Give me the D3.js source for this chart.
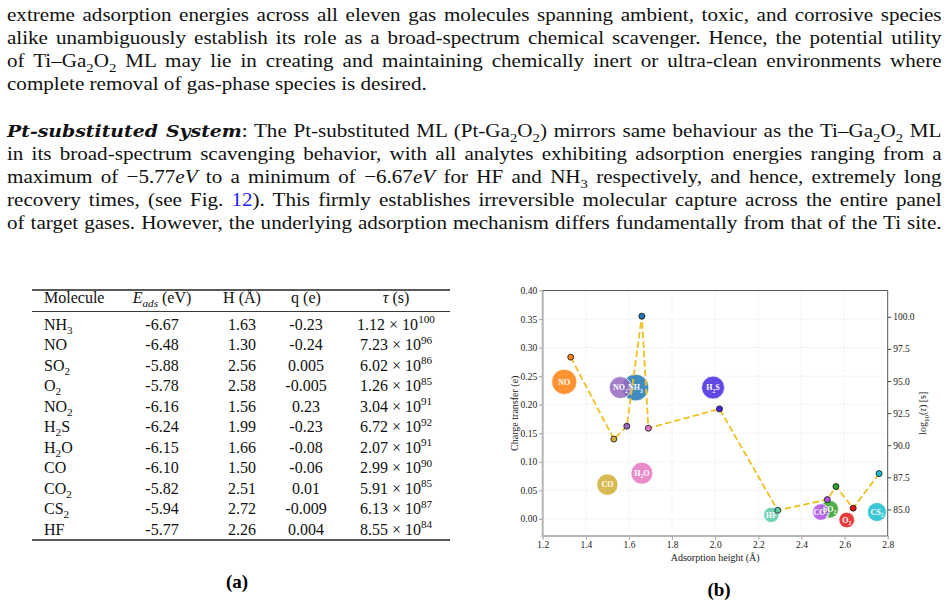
<!DOCTYPE html>
<html><head><meta charset="utf-8">
<script src="https://cdn.jsdelivr.net/npm/d3@7"></script>
<style>html,body{margin:0;padding:0;background:#fff;} svg{display:block;}</style>
</head><body>
<svg id="c" width="949" height="608"></svg>
<script>
// ---------- data (table) ----------
const molecules = ["NH3","NO","SO2","O2","NO2","H2S","H2O","CO","CO2","CS2","HF"];
const eAds      = ["-6.67","-6.48","-5.88","-5.78","-6.16","-6.24","-6.15","-6.10","-5.82","-5.94","-5.77"];
const heightH   = ["1.63","1.30","2.56","2.58","1.56","1.99","1.66","1.50","2.51","2.72","2.26"];
const chargeQ   = ["-0.23","-0.24","0.005","-0.005","0.23","-0.23","-0.08","-0.06","0.01","-0.009","0.004"];
const tauMant   = ["1.12","7.23","6.02","1.26","3.04","6.72","2.07","2.99","5.91","6.13","8.55"];
const tauExp    = ["100","96","86","85","91","92","91","90","85","87","84"];

// ---------- data (chart, as plotted) ----------
const bubbleH   = [1.63, 1.30, 2.53, 2.61, 1.56, 1.99, 1.66, 1.50, 2.49, 2.75, 2.26];
const bubbleQ   = [0.23, 0.24, 0.017, -0.002, 0.23, 0.23, 0.08, 0.06, 0.012, 0.012, 0.007];
const markerH   = [1.66, 1.33, 2.56, 2.64, 1.59, 2.02, 1.69, 1.53, 2.52, 2.76, 2.29];
const logTau    = [100.05, 96.86, 86.78, 85.10, 91.48, 92.83, 91.32, 90.48, 85.77, 87.79, 84.93];
const absEads   = [6.67, 6.48, 5.88, 5.78, 6.16, 6.24, 6.15, 6.10, 5.82, 5.94, 5.77];
const bubbleColors = ["#1f77b4","#ff7f0e","#2ca02c","#e31a1c","#9467bd","#4527e0","#e377c2","#d1ae35","#b050e8","#17becf","#5ccaa8"];
const xTicks    = [1.2, 1.4, 1.6, 1.8, 2.0, 2.2, 2.4, 2.6, 2.8];
const yTicks    = [0.00, 0.05, 0.10, 0.15, 0.20, 0.25, 0.30, 0.35, 0.40];
const rTicks    = [85.0, 87.5, 90.0, 92.5, 95.0, 97.5, 100.0];

const svg = d3.select("#c");
const SERIF = "'Liberation Serif','Times New Roman',serif";
svg.append("rect").attr("width",949).attr("height",608).attr("fill","#fff");

function rich(sel, segs, size) {
  let shift = 0;
  segs.forEach(s => {
    const ts = sel.append("tspan").text(s.t);
    const target = s.sub ? size*0.28 : s.sup ? -size*0.4 : 0;
    if (target !== shift) { ts.attr("dy", target - shift); shift = target; }
    if (s.sub || s.sup) ts.attr("font-size", size*0.7);
    if (s.it) ts.attr("font-style","italic");
    if (s.b) ts.attr("font-weight","bold");
    if (s.ff) ts.attr("font-family", s.ff);
    if (s.fs) ts.attr("font-size", s.fs);
    if (s.fill) ts.attr("fill", s.fill);
  });
}
function chem(name, extra) {
  return name.match(/\d+|\D+/g).map(p => Object.assign(/\d/.test(p) ? {t:p, sub:true} : {t:p}, extra||{}));
}

// ---------- paragraphs ----------
const P = 19, TEXTW = 935, WIDEN = 1.11;
const para1 = [
  [{t:"extreme adsorption energies across all eleven gas molecules spanning ambient, toxic, and corrosive species"}],
  [{t:"alike unambiguously establish its role as a broad-spectrum chemical scavenger. Hence, the potential utility"}],
  [{t:"of Ti–Ga"},{t:"2",sub:true},{t:"O"},{t:"2",sub:true},{t:" ML may lie in creating and maintaining chemically inert or ultra-clean environments where"}],
  [{t:"complete removal of gas-phase species is desired."}]
];
const para2 = [
  [{t:"Pt-substituted System",b:true,it:true,ff:"'DejaVu Serif',serif",fs:17},{t:": The Pt-substituted ML (Pt-Ga"},{t:"2",sub:true},{t:"O"},{t:"2",sub:true},{t:") mirrors same behaviour as the Ti–Ga"},{t:"2",sub:true},{t:"O"},{t:"2",sub:true},{t:" ML"}],
  [{t:"in its broad-spectrum scavenging behavior, with all analytes exhibiting adsorption energies ranging from a"}],
  [{t:"maximum of −5.77"},{t:"eV",it:true},{t:" to a minimum of −6.67"},{t:"eV",it:true},{t:" for HF and NH"},{t:"3",sub:true},{t:" respectively, and hence, extremely long"}],
  [{t:"recovery times, (see Fig. "},{t:"12",fill:"#1f1fff"},{t:"). This firmly establishes irreversible molecular capture across the entire panel"}],
  [{t:"of target gases. However, the underlying adsorption mechanism differs fundamentally from that of the Ti site."}]
];
function drawPara(lines, y0, justifyLast) {
  lines.forEach((segs, i) => {
    const g = svg.append("g");
    const t = g.append("text").attr("x", 0).attr("y", 0)
      .attr("font-family", SERIF).attr("font-size", P).attr("fill","#111");
    rich(t, segs, P);
    const last = i === lines.length-1;
    const n = t.node();
    const nat = n.getComputedTextLength();
    let sx = WIDEN;
    if (!last || justifyLast) {
      sx = Math.min(TEXTW/nat, WIDEN);
      const sp = (n.textContent.match(/ /g)||[]).length;
      if (sp) t.attr("word-spacing", (TEXTW/sx - nat)/sp);
    }
    g.attr("transform", `translate(7,${y0 + i*23}) scale(${sx},1)`);
  });
}
drawPara(para1, 21, false);
drawPara(para2, 137, true);

// ---------- table ----------
const TF = 16;
const tbl = svg.append("g").attr("font-family", SERIF).attr("font-size", TF).attr("fill","#111");
tbl.append("line").attr("x1",32).attr("x2",450).attr("y1",290).attr("y2",290).attr("stroke","#222").attr("stroke-width",1.4);
tbl.append("line").attr("x1",32).attr("x2",450).attr("y1",311.5).attr("y2",311.5).attr("stroke","#222").attr("stroke-width",0.9);
tbl.append("line").attr("x1",32).attr("x2",450).attr("y1",540).attr("y2",540).attr("stroke","#222").attr("stroke-width",1.4);
const colX = [44, 162, 242, 306, 396];
const header = [
  [{t:"Molecule"}],
  [{t:"E",it:true},{t:"ads",it:true,sub:true},{t:" (eV)"}],
  [{t:"H (Å)"}],
  [{t:"q (e)"}],
  [{t:"τ",it:true},{t:" (s)"}]
];
header.forEach((segs,j) => {
  const t = tbl.append("text").attr("x", colX[j]).attr("y", 302.5).attr("text-anchor", j===0?"start":"middle");
  rich(t, segs, TF);
});
molecules.forEach((m,i) => {
  const y = 329.5 + i*20.5;
  rich(tbl.append("text").attr("x",colX[0]).attr("y",y), chem(m), TF);
  tbl.append("text").attr("x",colX[1]).attr("y",y).attr("text-anchor","middle").text(eAds[i]);
  tbl.append("text").attr("x",colX[2]).attr("y",y).attr("text-anchor","middle").text(heightH[i]);
  tbl.append("text").attr("x",colX[3]).attr("y",y).attr("text-anchor","middle").text(chargeQ[i]);
  rich(tbl.append("text").attr("x",colX[4]).attr("y",y).attr("text-anchor","middle"),
       [{t:tauMant[i]+" × 10"},{t:tauExp[i],sup:true}], TF);
});
svg.append("text").attr("x",237).attr("y",588).attr("text-anchor","middle")
  .attr("font-family",SERIF).attr("font-size",19).attr("font-weight","bold").text("(a)");
svg.append("text").attr("x",719).attr("y",596).attr("text-anchor","middle")
  .attr("font-family",SERIF).attr("font-size",19).attr("font-weight","bold").text("(b)");

// ---------- chart ----------
const L = 542.7, R = 887.7, T = 290.5, B = 536;
const x  = d3.scaleLinear().domain([1.2, 2.8]).range([L, R]);
const yL = d3.scaleLinear().domain([-0.03, 0.40]).range([B, T]);
const yR = d3.scaleLinear().domain([82.93, 102.05]).range([B, T]);
const E0 = 5.6;
const rPow = d3.scalePow().exponent(0.3).domain([0, 6.67 - E0]).range([0, 13.4]);
const rS = e => rPow(e - E0);
const ch = svg.append("g").attr("font-family", SERIF).attr("font-size", 9.5).attr("fill","#222");

// grid
ch.append("g").selectAll("line").data(xTicks.slice(1,-1)).join("line")
  .attr("x1",d=>x(d)).attr("x2",d=>x(d)).attr("y1",T).attr("y2",B)
  .attr("stroke","#e4e4e4").attr("stroke-width",0.7).attr("stroke-dasharray","2,2");
ch.append("g").selectAll("line").data(yTicks.slice(0,-1)).join("line")
  .attr("x1",L).attr("x2",R).attr("y1",d=>yL(d)).attr("y2",d=>yL(d))
  .attr("stroke","#e4e4e4").attr("stroke-width",0.7).attr("stroke-dasharray","2,2");

// axes
const axL = ch.append("g").attr("transform",`translate(${L},0)`)
  .call(d3.axisLeft(yL).tickValues(yTicks).tickFormat(d3.format(".2f")).tickSize(3.5).tickPadding(2));
const axB = ch.append("g").attr("transform",`translate(0,${B})`)
  .call(d3.axisBottom(x).tickValues(xTicks).tickFormat(d3.format(".1f")).tickSize(3.5).tickPadding(2));
const axR = ch.append("g").attr("transform",`translate(${R},0)`)
  .call(d3.axisRight(yR).tickValues(rTicks).tickFormat(d3.format(".1f")).tickSize(3.5).tickPadding(2));
[axL,axB,axR].forEach(a => { a.select(".domain").remove(); a.attr("font-family",SERIF).attr("font-size",9.5);
  a.selectAll("text").attr("fill","#222"); });
axL.selectAll(".tick line").attr("stroke","#999");
axB.selectAll(".tick line").attr("stroke","#999");
axR.selectAll(".tick line").attr("stroke","#444");

// spines
ch.append("line").attr("x1",L).attr("x2",L).attr("y1",T).attr("y2",B+1).attr("stroke","#b5b5b5").attr("stroke-width",2);
ch.append("line").attr("x1",L-1).attr("x2",R).attr("y1",B).attr("y2",B).attr("stroke","#b5b5b5").attr("stroke-width",2);
ch.append("line").attr("x1",L).attr("x2",R).attr("y1",T).attr("y2",T).attr("stroke","#555").attr("stroke-width",1);
ch.append("line").attr("x1",R).attr("x2",R).attr("y1",T).attr("y2",B).attr("stroke","#555").attr("stroke-width",1);

// axis labels
ch.append("text").attr("x",(L+R)/2).attr("y",561).attr("text-anchor","middle").attr("font-size",10).text("Adsorption height (Å)");
ch.append("text").attr("transform",`translate(518,${(T+B)/2}) rotate(-90)`).attr("text-anchor","middle").attr("font-size",10).text("Charge transfer (e)");
const rl = ch.append("text").attr("transform",`translate(926,${(T+B)/2}) rotate(-90)`).attr("text-anchor","middle").attr("font-size",10);
rich(rl, [{t:"log"},{t:"10",sub:true},{t:"("},{t:"τ",it:true},{t:") [s]"}], 10);

// bubbles
const idx = d3.range(molecules.length);
ch.append("g").selectAll("circle").data(idx).join("circle")
  .attr("cx",i=>x(bubbleH[i])).attr("cy",i=>yL(bubbleQ[i])).attr("r",i=>rS(absEads[i]))
  .attr("fill",i=>bubbleColors[i]).attr("fill-opacity",0.85).attr("stroke","#fff").attr("stroke-width",0.8);
idx.forEach(i => {
  const t = ch.append("text").attr("x",x(bubbleH[i])).attr("y",yL(bubbleQ[i])+2.8)
    .attr("text-anchor","middle").attr("font-size",8).attr("font-weight","bold").attr("fill","#fff");
  rich(t, chem(molecules[i]), 8);
});

// dashed line + markers
const order = idx.slice().sort((a,b)=>markerH[a]-markerH[b]);
ch.append("path").datum(order)
  .attr("d", d3.line().x(i=>x(markerH[i])).y(i=>yR(logTau[i])))
  .attr("fill","none").attr("stroke","#f0c020").attr("stroke-width",1.8).attr("stroke-dasharray","6.5,3");
ch.append("g").selectAll("circle").data(order).join("circle")
  .attr("cx",i=>x(markerH[i])).attr("cy",i=>yR(logTau[i])).attr("r",3)
  .attr("fill",i=>bubbleColors[i]).attr("stroke","#111").attr("stroke-width",0.8);
</script>
</body></html>
